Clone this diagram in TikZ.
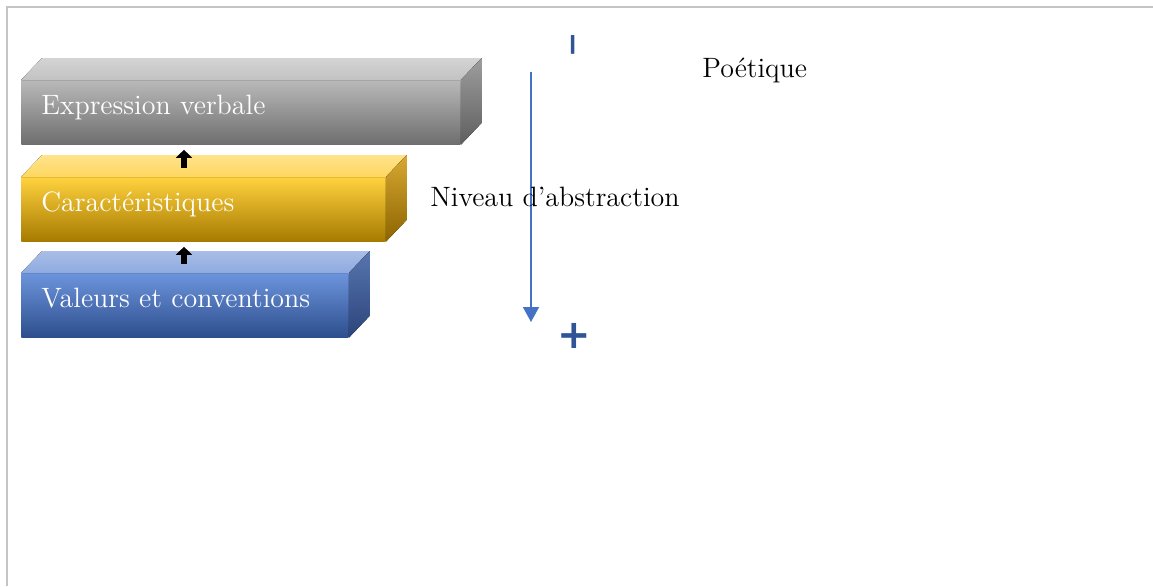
\documentclass[tikz,border=0pt]{standalone}
\usepackage{fontspec}
\newfontfamily\signfont{DejaVu Sans}
\usepackage{xcolor}
\usetikzlibrary{positioning,arrows.meta,calc}
\definecolor{frgray}{HTML}{C4C4C4}
\definecolor{absblue}{HTML}{4472C4}
\definecolor{signblue}{HTML}{2F5597}
% slab colours: top face, front, side
\definecolor{grtopA}{HTML}{D4D4D4}\definecolor{grtopB}{HTML}{C2C2C2}
\definecolor{grfrA}{HTML}{B9B9B9}\definecolor{grfrB}{HTML}{6E6E6E}
\definecolor{grsdA}{HTML}{9E9E9E}\definecolor{grsdB}{HTML}{5E5E5E}
\definecolor{yetopA}{HTML}{FFE38C}\definecolor{yetopB}{HTML}{FFD760}
\definecolor{yefrA}{HTML}{FFD23E}\definecolor{yefrM}{HTML}{FFC000}
\definecolor{yefrB}{HTML}{A67A00}
\definecolor{yesdA}{HTML}{D8A832}\definecolor{yesdB}{HTML}{8C6400}
\definecolor{bltopA}{HTML}{A9BEE6}\definecolor{bltopB}{HTML}{8EAADF}
\definecolor{blfrA}{HTML}{6C94DC}\definecolor{blfrB}{HTML}{2D4E8D}
\definecolor{blsdA}{HTML}{5875AF}\definecolor{blsdB}{HTML}{2B457B}

% top and side faces of a slab, from its front node
\newcommand{\slabfaces}[5]{%
  \fill[top color=#2, bottom color=#3] (#1.north west) -- ++(21,-22)
    -- ($(#1.north east)+(21,-22)$) -- (#1.north east) -- cycle;
  \fill[top color=#4, bottom color=#5] (#1.north east) -- ++(21,-22)
    -- ($(#1.south east)+(21,-22)$) -- (#1.south east) -- cycle;
}

\begin{document}
\begin{tikzpicture}[
  x=0.5pt, y=-0.5pt,
  font=\fontsize{14}{16}\selectfont,
  front/.style={anchor=north west, minimum height=32pt, inner xsep=10pt,
    inner ysep=0pt, text=white, align=left, text depth=8pt},
  uparr/.style={-{Triangle[width=8pt,length=4pt]}, line width=3pt, black},
  sign/.style={signblue, font=\signfont\bfseries\fontsize{20}{20}\selectfont},
  ]
  \useasboundingbox (0,0) rectangle (1153,586);
  \draw[frgray, line width=1pt] (7,586) -- (7,7) -- (1153,7);

  % The three slabs.
  \node[front, text width=199.5pt, top color=grfrA, bottom color=grfrB]
    (verbale) at (21,80) {Expression verbale};
  \slabfaces{verbale}{grtopA}{grtopB}{grsdA}{grsdB}
  \node[front, text width=162pt, top color=yefrA, middle color=yefrM, bottom color=yefrB]
    (caract) at (21,177) {Caractéristiques};
  \slabfaces{caract}{yetopA}{yetopB}{yesdA}{yesdB}
  \node[front, text width=143.5pt, top color=blfrA, bottom color=blfrB]
    (valeurs) at (21,273) {Valeurs et conventions};
  \slabfaces{valeurs}{bltopA}{bltopB}{blsdA}{blsdB}

  \draw[uparr, shorten <=4.5pt, shorten >=2.5pt]
    ($(caract.north west)+(163,0)$) -- ($(verbale.south west)+(163,0)$);
  \draw[uparr, shorten <=4.5pt, shorten >=2.5pt]
    ($(valeurs.north west)+(163,0)$) -- ($(caract.south west)+(163,0)$);

  % The scale.
  \coordinate (abstop) at (531,72);
  \coordinate (absbot) at (531,322);
  \draw[absblue, line width=0.8pt, -{Triangle[width=8pt,length=7.5pt]}] (abstop) -- (absbot);
  \node[anchor=west, inner sep=0pt] (niveau) at (430,197) {Niveau d’abstraction};
  \node[anchor=west, inner sep=0pt] (poetique) at (702,70) {Poétique};
  \node[sign, font=\signfont\bfseries\fontsize{15}{15}\selectfont, rotate=90] (moins) at (577,45) {−};
  \node[sign] (plus) at (574,336) {+};
\end{tikzpicture}
\end{document}
